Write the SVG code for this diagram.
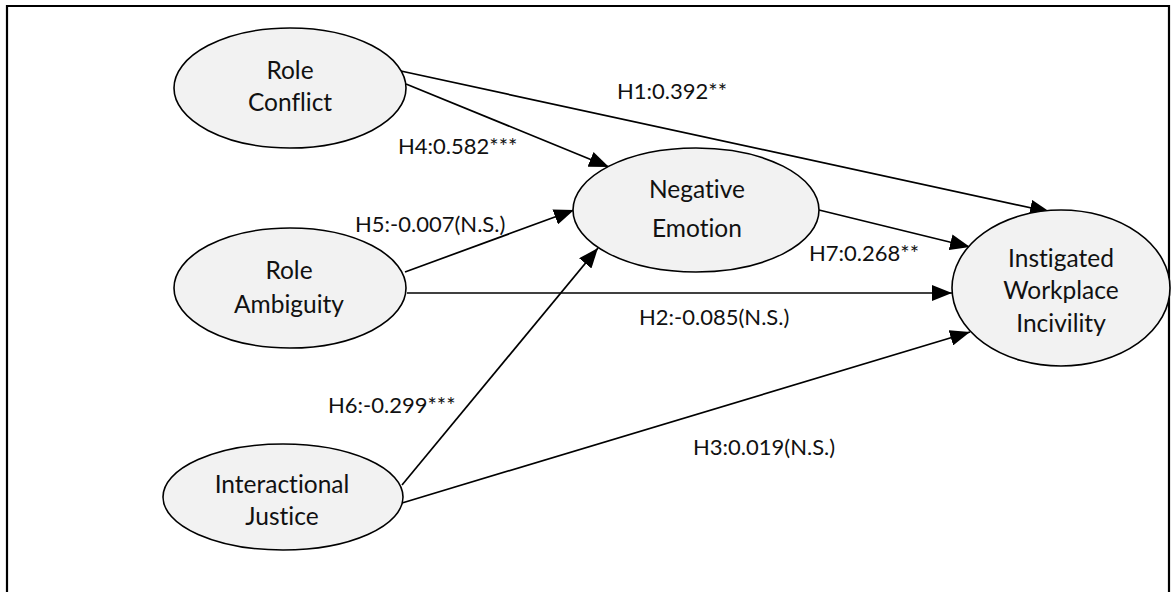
<svg xmlns="http://www.w3.org/2000/svg" width="1171" height="592" viewBox="0 0 1171 592">
  <style>
    text { font-variant-ligatures: none; font-feature-settings: "liga" 0, "dlig" 0; }
    .frame { fill: none; stroke: #000; stroke-width: 2.2; }
    .node ellipse { fill: #f2f2f2; stroke: #000; stroke-width: 1.6; }
    .node text { font-family: Lato, "Liberation Sans", sans-serif; font-size: 24.5px; fill: #111; text-anchor: middle; }
    .edge { stroke: #000; stroke-width: 1.7; fill: none; marker-end: url(#arrow); }
    .label { font-family: Lato, "Liberation Sans", sans-serif; font-size: 22px; fill: #111; }
  </style>
  <defs>
    <marker id="arrow" markerUnits="userSpaceOnUse" markerWidth="20" markerHeight="16" refX="20" refY="8" orient="auto">
      <path d="M0,0 L20,8 L0,16 Z" fill="#000"/>
    </marker>
  </defs>

  <rect width="1171" height="592" fill="#fff"/>
  <!-- outer frame, open at the bottom -->
  <path class="frame" d="M7,600 V6 H1169 V600"/>

  <g id="connectors">
    <!-- H1 Role Conflict -> Incivility -->
    <line class="edge" x1="387" y1="68" x2="1050" y2="212"/>
    <!-- H4 Role Conflict -> Negative Emotion -->
    <line class="edge" x1="406" y1="84" x2="609" y2="167"/>
    <!-- H5 Role Ambiguity -> Negative Emotion -->
    <line class="edge" x1="405" y1="272" x2="574" y2="210"/>
    <!-- H2 Role Ambiguity -> Incivility -->
    <line class="edge" x1="407" y1="293" x2="952" y2="293"/>
    <!-- H6 Interactional Justice -> Negative Emotion -->
    <line class="edge" x1="402" y1="485" x2="598" y2="248"/>
    <!-- H3 Interactional Justice -> Incivility -->
    <line class="edge" x1="402" y1="503" x2="970" y2="332"/>
    <!-- H7 Negative Emotion -> Incivility -->
    <line class="edge" x1="819" y1="210" x2="970" y2="247"/>
  </g>

  <g id="edge-labels">
    <text class="label" x="617" y="99">H1:0.392**</text>
    <text class="label" x="398" y="154">H4:0.582***</text>
    <text class="label" x="355" y="232">H5:-0.007(N.S.)</text>
    <text class="label" x="809" y="261">H7:0.268**</text>
    <text class="label" x="639" y="325">H2:-0.085(N.S.)</text>
    <text class="label" x="328" y="413">H6:-0.299***</text>
    <text class="label" x="693" y="455">H3:0.019(N.S.)</text>
  </g>

  <g id="role-conflict" class="node">
    <ellipse cx="290" cy="88" rx="116" ry="60"/>
    <text x="290" y="79">Role</text>
    <text x="290" y="111">Conflict</text>
  </g>

  <g id="role-ambiguity" class="node">
    <ellipse cx="290" cy="288" rx="116" ry="60"/>
    <text x="289" y="279">Role</text>
    <text x="289" y="313">Ambiguity</text>
  </g>

  <g id="interactional-justice" class="node">
    <ellipse cx="283" cy="497" rx="120" ry="53"/>
    <text x="282" y="493">Interactional</text>
    <text x="282" y="525">Justice</text>
  </g>

  <g id="negative-emotion" class="node">
    <ellipse cx="696" cy="210" rx="123" ry="62"/>
    <text x="697" y="198">Negative</text>
    <text x="697" y="237">Emotion</text>
  </g>

  <g id="workplace-incivility" class="node">
    <ellipse cx="1061" cy="288" rx="109" ry="78"/>
    <text x="1061" y="267">Instigated</text>
    <text x="1061" y="299">Workplace</text>
    <text x="1061" y="332">Incivility</text>
  </g>
</svg>
